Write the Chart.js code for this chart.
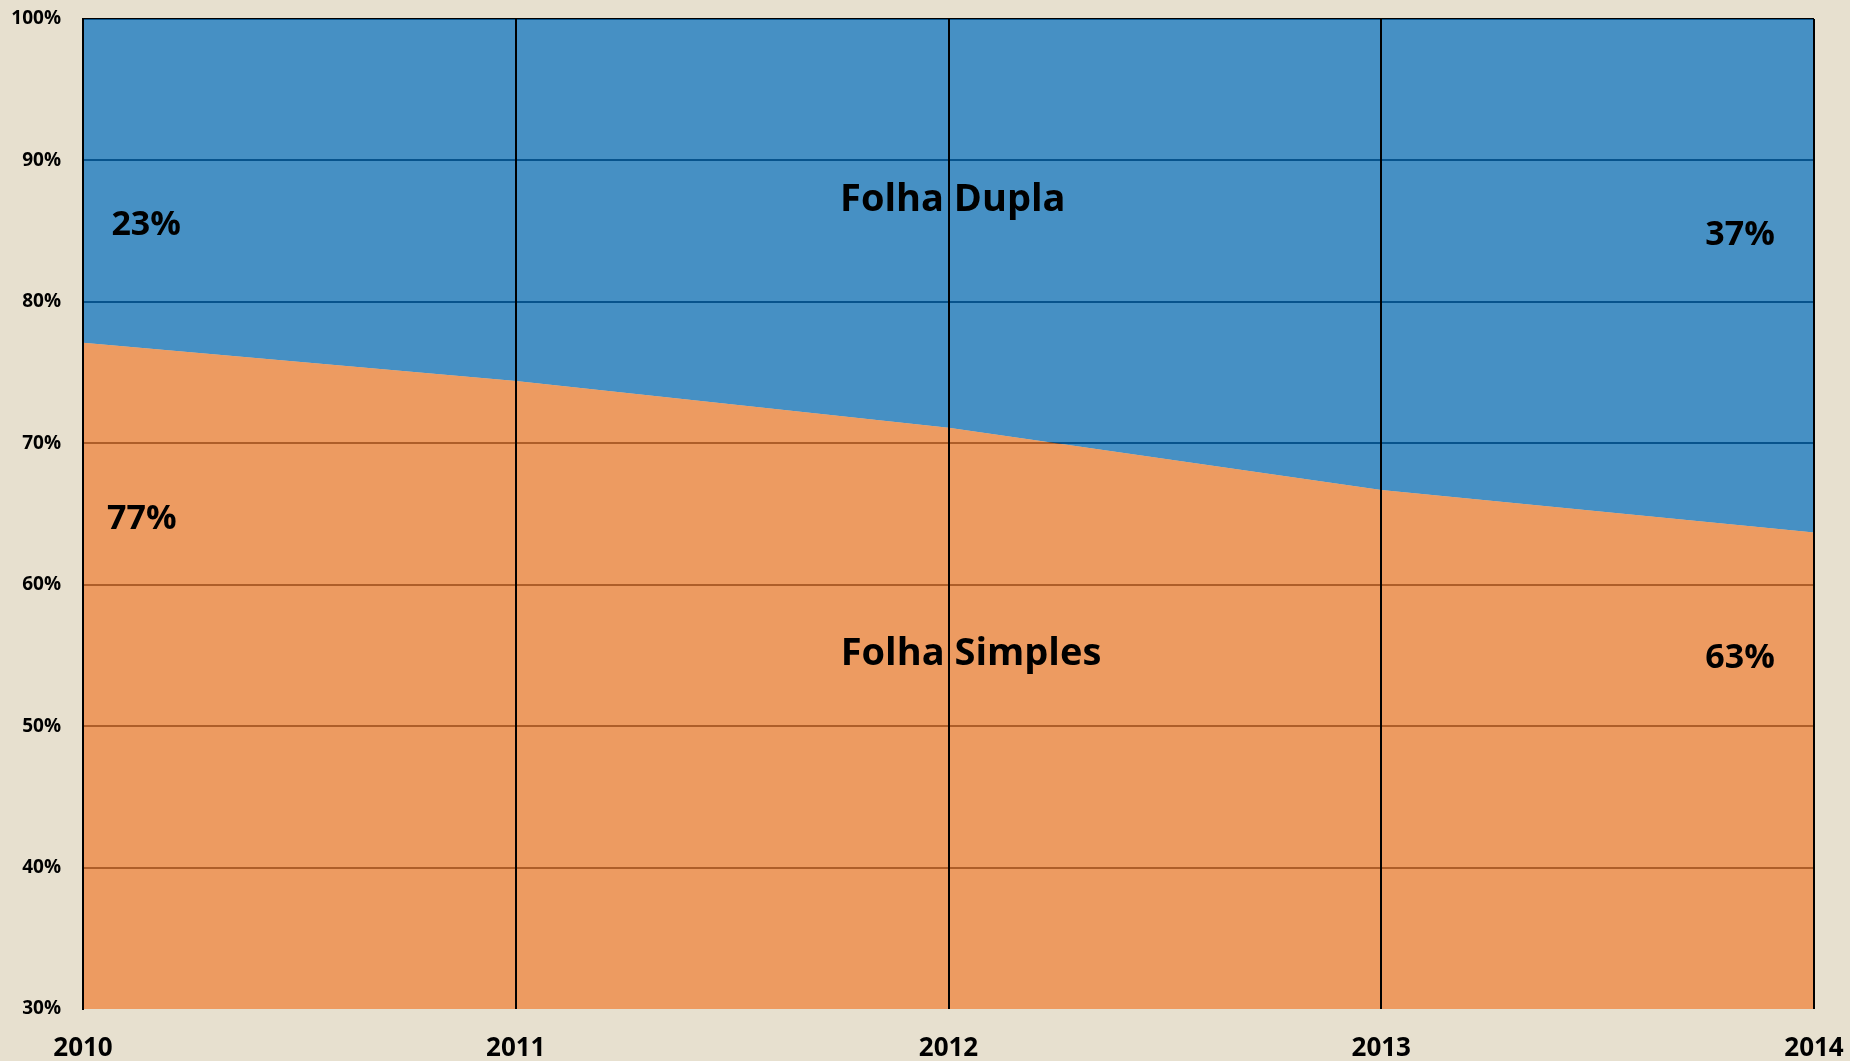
<!DOCTYPE html>
<html>
<head>
<meta charset="utf-8">
<script src="https://cdn.jsdelivr.net/npm/chart.js@4.4.1/dist/chart.umd.min.js"></script>
<style>
  html, body { margin: 0; padding: 0; background: #E7E0CF; }
  #wrap { width: 1850px; height: 1061px; }
</style>
</head>
<body>
<div id="wrap"><canvas id="c" width="1850" height="1061"></canvas></div>
<script>
// ---- data ----
const years = ['2010', '2011', '2012', '2013', '2014'];
const folhaSimples = [77.1, 74.4, 71.1, 66.7, 63.7];
const folhaDupla = [22.9, 25.6, 28.9, 33.3, 36.3];
const yTickValues = [30, 40, 50, 60, 70, 80, 90, 100];
const labelTexts = ['23%', '77%', 'Folha Dupla', 'Folha Simples', '37%', '63%'];

// label placement (data coordinates: x = category index, y = percent)
const labelPlacement = [
  { x: 0.146, y: 85.4, size: 34 },
  { x: 0.136, y: 64.6, size: 34 },
  { x: 2.010, y: 87.2, size: 38 },
  { x: 2.052, y: 55.1, size: 38 },
  { x: 3.829, y: 84.7, size: 34 },
  { x: 3.829, y: 54.8, size: 34 }
];

const FONT = "'Open Sans', 'DejaVu Sans', sans-serif";

const textPlugin = {
  id: 'areaLabels',
  afterDraw(chart) {
    const ctx = chart.ctx;
    const xs = chart.scales.x, ys = chart.scales.y;
    ctx.save();
    ctx.fillStyle = '#000';
    ctx.textAlign = 'center';
    ctx.textBaseline = 'middle';
    labelTexts.forEach((t, i) => {
      const p = labelPlacement[i];
      const i0 = Math.floor(p.x);
      const x0 = xs.getPixelForValue(i0);
      const x1 = xs.getPixelForValue(Math.min(i0 + 1, years.length - 1));
      const px = x0 + (x1 - x0) * (p.x - i0);
      const py = ys.getPixelForValue(p.y);
      ctx.font = 'bold ' + p.size + 'px ' + FONT;
      ctx.fillText(t, px, py);
    });
    ctx.restore();
  }
};

new Chart(document.getElementById('c'), {
  type: 'line',
  data: {
    labels: years,
    datasets: [
      {
        label: 'Folha Simples',
        data: folhaSimples,
        backgroundColor: 'rgba(238,129,56,0.73)',
        borderWidth: 0,
        pointRadius: 0,
        fill: 'origin',
        tension: 0
      },
      {
        label: 'Folha Dupla',
        data: folhaDupla,
        backgroundColor: 'rgba(9,114,192,0.73)',
        borderWidth: 0,
        pointRadius: 0,
        fill: '-1',
        tension: 0
      }
    ]
  },
  options: {
    responsive: false,
    animation: false,
    devicePixelRatio: 1,
    layout: { padding: { top: 19, right: 36, left: 0, bottom: 0 } },
    plugins: {
      legend: { display: false },
      tooltip: { enabled: false }
    },
    scales: {
      x: {
        offset: false,
        grid: { color: '#000', lineWidth: 2, drawTicks: false, z: 1 },
        border: { display: false },
        ticks: {
          color: '#000',
          font: { family: FONT, size: 26, weight: 'bold' },
          padding: 24,
          maxRotation: 0,
          autoSkip: false
        },
        afterFit(s) { s.height = 52; s.paddingLeft = 0; s.paddingRight = 0; }
      },
      y: {
        stacked: true,
        min: 30,
        max: 100,
        afterBuildTicks(s) { s.ticks = yTickValues.map(v => ({ value: v })); },
        grid: {
          color: (c) => (c.tick && c.tick.value === 30) ? 'rgba(0,0,0,0)' : '#000',
          lineWidth: 2,
          drawTicks: false
        },
        border: { display: true, color: '#000', width: 2 },
        ticks: {
          color: '#000',
          font: { family: FONT, size: 19, weight: 'bold' },
          padding: 22,
          callback: (v) => v + '%'
        },
        afterFit(s) { s.width = 83; s.paddingTop = 0; s.paddingBottom = 0; }
      }
    }
  },
  plugins: [textPlugin]
});
</script>
</body>
</html>
